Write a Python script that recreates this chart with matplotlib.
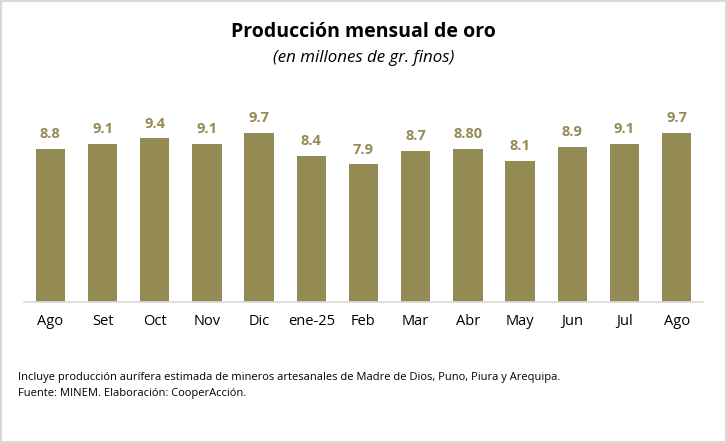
import matplotlib.pyplot as plt
from matplotlib.patches import Rectangle

# data
months = ['Ago', 'Set', 'Oct', 'Nov', 'Dic', 'ene-25', 'Feb', 'Mar', 'Abr', 'May', 'Jun', 'Jul', 'Ago']
values = [8.8, 9.1, 9.4, 9.1, 9.7, 8.4, 7.9, 8.7, 8.80, 8.1, 8.9, 9.1, 9.7]
value_labels = ['8.8', '9.1', '9.4', '9.1', '9.7', '8.4', '7.9', '8.7', '8.80', '8.1', '8.9', '9.1', '9.7']

olive = '#948A54'
plt.rcParams['font.family'] = ['Open Sans', 'DejaVu Sans']

fig = plt.figure(figsize=(7.27, 4.43), dpi=100)
ax = fig.add_axes([0.0333, 0.319, 0.9334, 0.455])

x = range(len(months))
ax.bar(x, values, width=0.56, color=olive)
for i, v in enumerate(values):
    ax.text(i, v + 0.45, value_labels[i], ha='center', va='bottom',
            fontsize=10.5, fontweight='bold', color=olive)

ax.set_xlim(-0.5, len(months) - 0.5)
ax.set_ylim(0, 11.6)
ax.set_xticks(list(x))
ax.set_xticklabels(months, fontsize=10.5)
ax.tick_params(axis='x', length=0, pad=9)
ax.set_yticks([])
for s in ['top', 'right', 'left']:
    ax.spines[s].set_visible(False)
ax.spines['bottom'].set_color('#D9D9D9')
ax.spines['bottom'].set_linewidth(1.2)

fig.text(0.5, 0.928, 'Producción mensual de oro', ha='center', va='center',
         fontsize=14, fontweight='bold')
fig.text(0.5, 0.869, '(en millones de gr. finos)', ha='center', va='center',
         fontsize=12.2, style='italic')

fig.text(0.025, 0.148, 'Incluye producción aurífera estimada de mineros artesanales de Madre de Dios, Puno, Piura y Arequipa.',
         ha='left', va='center', fontsize=8)
fig.text(0.025, 0.112, 'Fuente: MINEM. Elaboración: CooperAcción.',
         ha='left', va='center', fontsize=8)

# light frame around the whole chart
fig.patches.append(Rectangle((0.002, 0.003), 0.996, 0.994, transform=fig.transFigure,
                             fill=False, edgecolor='#D9D9D9', linewidth=1.5))

fig.savefig('out.png', dpi=100)
